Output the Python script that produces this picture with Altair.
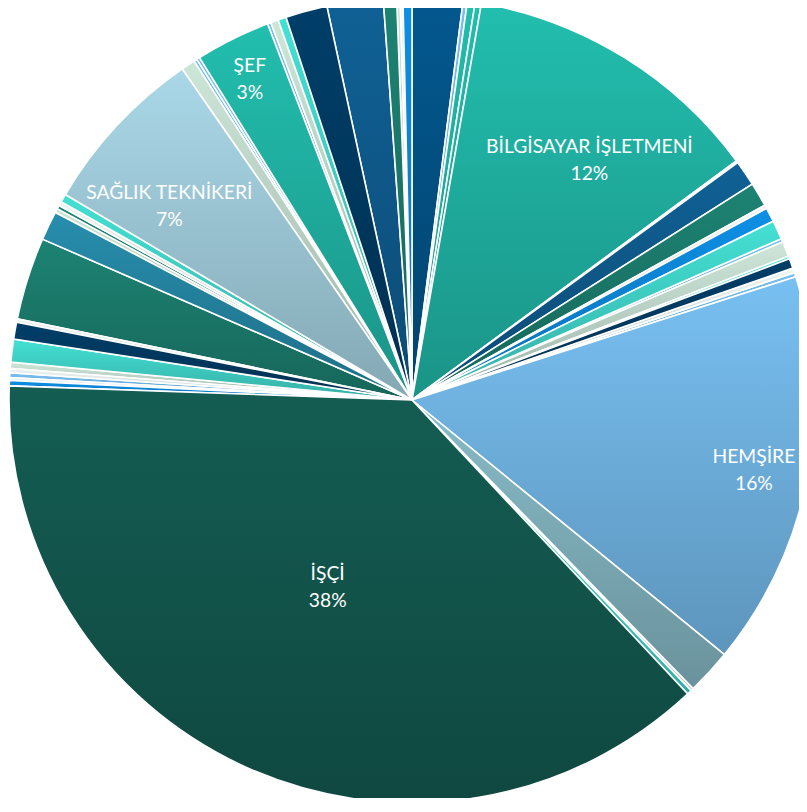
import altair as alt
import pandas as pd

# ---- data (clockwise from 12 o'clock) ----
names = [
    "", "", "", "", "BİLGİSAYAR İŞLETMENİ", "", "", "", "", "",
    "", "", "", "", "", "", "", "HEMŞİRE", "", "",
    "", "İŞÇİ", "", "", "", "", "", "", "", "",
    "", "", "", "", "", "", "SAĞLIK TEKNİKERİ", "", "", "",
    "ŞEF", "", "", "", "", "", "", "", "", "",
]
values = [
    2.03, 0.17, 0.31, 0.25, 12.14, 0.08, 1.03, 0.97, 0.14, 0.57,
    0.76, 0.14, 0.61, 0.11, 0.39, 0.19, 0.17, 15.83, 1.83, 0.11,
    0.19, 37.56, 0.22, 0.11, 0.19, 0.17, 0.25, 0.92, 0.67, 0.14,
    3.31, 1.17, 0.17, 0.14, 0.17, 0.33, 6.83, 0.56, 0.13, 0.13,
    3.00, 0.14, 0.31, 0.33, 1.67, 2.25, 0.53, 0.14, 0.11, 0.36,
]
groups = [
    "db1", "lb", "tq", "tq", "tq", "gg", "db2", "dt", "pale", "bb",
    "tz", "lb", "gg", "tz", "nv", "pale", "lb", "hem", "ltg", "pale",
    "tz", "isci", "bb", "pale", "lb", "pale", "gg", "tz", "nv", "pale",
    "dt", "tb", "gg", "dt", "pale", "tz", "sag", "gg", "lb", "lb",
    "tq", "lb", "gg", "tz", "nv", "db2", "dt", "gg", "pale", "bb",
]

# ---- styles ----
palette = {
    "db1": "#03588f", "lb": "#78c0f0", "tq": "#22beae", "gg": "#cce6d8",
    "db2": "#106196", "dt": "#1d8373", "pale": "#eef5f2", "bb": "#0d90e6",
    "tz": "#44e0d4", "nv": "#003e68", "hem": "#78c0f2", "ltg": "#88bcc8",
    "isci": "#145d53", "tb": "#278ead", "sag": "#aad8e8",
}
label_layout = {  # radius, dx, dy
    "BİLGİSAYAR İŞLETMENİ": (297, 21, -1),
    "HEMŞİRE": (353, -5, -8),
    "İŞÇİ": (204, 0, -12),
    "SAĞLIK TEKNİKERİ": (311, -15, 5),
    "ŞEF": (360, -2, -12),
}
CX, CY, R = 404, 392, 403


def shade(hexc, f):
    h = hexc.lstrip("#")
    r, g, b = (int(h[i:i + 2], 16) for i in (0, 2, 4))
    return "#%02x%02x%02x" % (int(r * f), int(g * f), int(b * f))


df = pd.DataFrame({"idx": list(range(len(values))), "name": names,
                   "value": values, "grp": groups})

base = (
    alt.Chart(df)
    .transform_joinaggregate(total="sum(value)")
    .transform_window(cum="sum(value)", sort=[alt.SortField("idx")], frame=[None, 0])
    .transform_calculate(
        t0="2*PI*(datum.cum-datum.value)/datum.total",
        t1="2*PI*datum.cum/datum.total",
        tm="PI*(2*datum.cum-datum.value)/datum.total",
    )
)

layers = []
for g, col in palette.items():
    grad = alt.Gradient(
        gradient="linear",
        stops=[alt.GradientStop(color=col, offset=0),
               alt.GradientStop(color=shade(col, 0.78), offset=1)],
        x1=0, y1=0, x2=0, y2=1,
    )
    layers.append(
        base.transform_filter(alt.datum.grp == g)
        .mark_arc(radius=R, fill=grad, stroke="white", strokeWidth=1.6)
        .encode(
            theta=alt.Theta("t0:Q", scale=None),
            theta2=alt.Theta2("t1:Q"),
            x=alt.value(CX), y=alt.value(CY),
        )
    )

for nm, (r, dx, dy) in label_layout.items():
    layers.append(
        base.transform_filter(alt.datum.name == nm)
        .transform_calculate(lab="datum.name + '\\n' + format(datum.value/datum.total, '.0%')")
        .mark_text(radius=r, dx=dx, dy=dy, font="Lato", fontSize=19.3, color="white",
                   lineBreak="\n", lineHeight=27, align="center", baseline="middle")
        .encode(
            theta=alt.Theta("tm:Q", scale=None),
            text="lab:N",
            x=alt.value(CX), y=alt.value(CY),
        )
    )

chart = (
    alt.layer(*layers)
    .properties(width=791, height=790, autosize="none", padding=0, background="white")
    .configure_view(stroke=None)
)

chart.save("out.html", embed_options={"renderer": "svg", "actions": False})
